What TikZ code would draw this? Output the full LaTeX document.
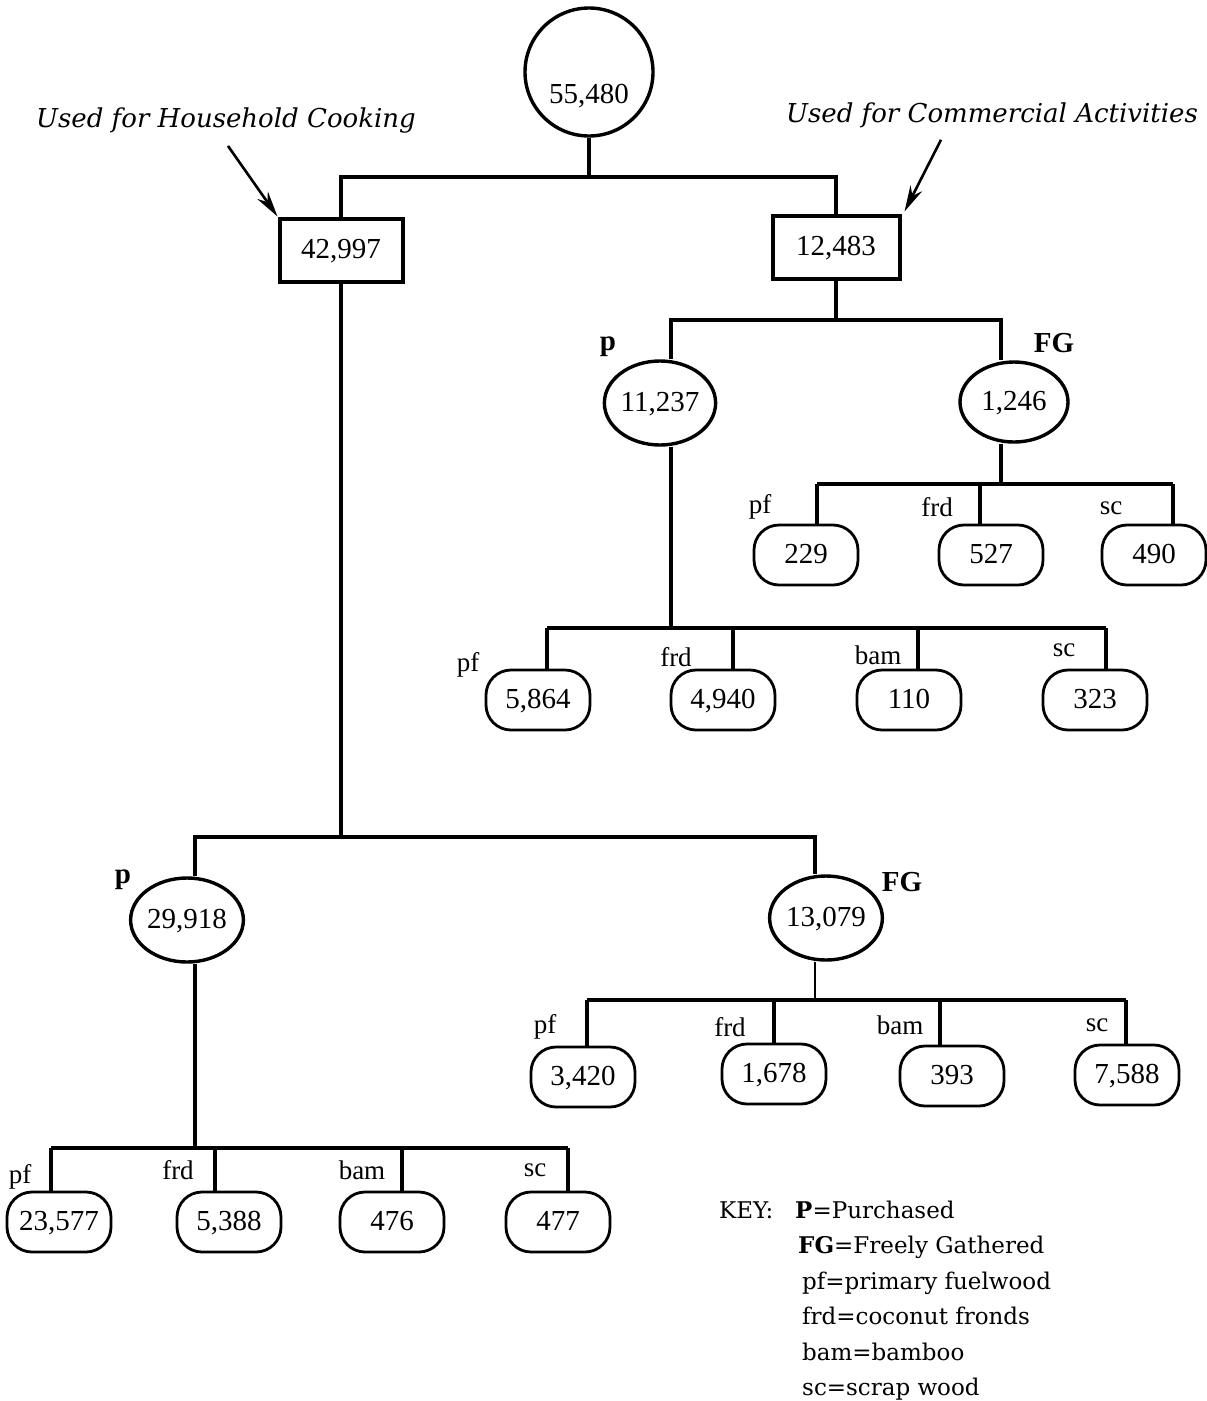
\documentclass[tikz,border=0pt]{standalone}
\usepackage{fontspec}
\setmainfont{Liberation Serif}
\newfontfamily\dvs{DejaVu Serif}
\usetikzlibrary{shapes.geometric,arrows.meta}
\begin{document}
\begin{tikzpicture}[x=1pt,y=-1pt,
  tree/.style={line width=3.6pt},
  thinline/.style={line width=1.6pt},
  num/.style={font=\fontsize{29}{30}\selectfont, text height=19pt, text depth=2pt, inner sep=0pt},
  oval/.style={num, draw, ellipse, line width=3.4pt, minimum width=108pt, minimum height=84pt},
  bx/.style={num, draw, rectangle, line width=4pt, minimum height=63pt},
  leaf/.style={num, draw, rectangle, rounded corners=25pt, line width=2.8pt, minimum width=104pt, minimum height=60pt},
  tag/.style={font=\fontsize{27}{28}\selectfont, inner sep=0pt},
  btag/.style={font=\fontsize{29}{30}\selectfont\bfseries, inner sep=0pt},
  note/.style={font=\dvs\fontsize{26}{28}\selectfont\itshape, inner sep=0pt},
  arr/.style={line width=2.6pt, -{Stealth[length=26pt,width=13pt]}},
  keyfont/.style={font=\dvs\fontsize{23}{35.5}\selectfont, inner sep=0pt},
]
\fill[white] (0,0) rectangle (1207,1401);
\useasboundingbox (0,0) rectangle (1207,1401);

% root
\node[draw, circle, line width=3.4pt, minimum size=128pt, inner sep=0pt] (root) at (589,72) {};
\node[num] (rootnum) at (589,95) {55,480};
\coordinate (h1) at (589,177);
\node[bx, minimum width=123pt] (b1) at (341,250) {42,997};
\node[bx, minimum width=127pt] (b2) at (836,247) {12,483};
\draw[tree] (root) -- (h1);
\draw[tree] (b1.north) |- (h1) -| (b2.north);

% notes and arrows
\node[note] (nh) at (226,121) {Used for Household Cooking};
\node[note] (nc) at (992,115) {Used for Commercial Activities};
\draw[arr] ([xshift=2pt,yshift=-12pt]nh.south) -- (b1.north west);
\draw[arr] ([xshift=-51pt,yshift=-12pt]nc.south) -- ([xshift=3pt,yshift=2pt]b2.north east);

% commercial subtree
\coordinate (h2) at (836,320);
\coordinate (cp2) at (671,320);
\coordinate (cfg2) at (1001,320);
\node[oval] (p2) at (660,403) {11,237};
\node[oval, minimum height=80pt] (fg2) at (1014,402) {1,246};
\node[btag] (tp2) at (608,347) {p};
\node[btag] (tfg2) at (1054,343) {FG};
\draw[tree] (b2.south) -- (h2);
\draw[tree] (cp2 |- p2.north) -- (cp2) -- (cfg2) -- (cfg2 |- fg2.north);

% group A (under 1,246)
\coordinate (hA) at (1001,484);
\coordinate (sA1) at (817,484);
\coordinate (sA2) at (980,484);
\coordinate (sA3) at (1173,484);
\node[leaf] (lA1) at (806,555) {229};
\node[leaf] (lA2) at (991,555) {527};
\node[leaf] (lA3) at (1154,555) {490};
\node[tag] (tA1) at (760,507) {pf};
\node[tag] (tA2) at (937,507) {frd};
\node[tag] (tA3) at (1111,508) {sc};
\draw[tree] (fg2.south -| hA) -- (hA);
\draw[tree] (sA1) -- (sA3);
\draw[tree] (sA1) -- (sA1 |- lA1.north);
\draw[tree] (sA2) -- (sA2 |- lA2.north);
\draw[tree] (sA3) -- (sA3 |- lA3.north);

% group B (under 11,237)
\coordinate (hB) at (671,628);
\coordinate (sB1) at (547,628);
\coordinate (sB2) at (733,628);
\coordinate (sB3) at (918,628);
\coordinate (sB4) at (1106,628);
\node[leaf] (lB1) at (538,700) {5,864};
\node[leaf] (lB2) at (723,700) {4,940};
\node[leaf] (lB3) at (909,700) {110};
\node[leaf] (lB4) at (1095,700) {323};
\node[tag] (tB1) at (468,665) {pf};
\node[tag] (tB2) at (676,657) {frd};
\node[tag] (tB3) at (878,655) {bam};
\node[tag] (tB4) at (1064,650) {sc};
\draw[tree] (p2.south -| hB) -- (hB);
\draw[tree] (sB1) -- (sB4);
\draw[tree] (sB1) -- (sB1 |- lB1.north);
\draw[tree] (sB2) -- (sB2 |- lB2.north);
\draw[tree] (sB3) -- (sB3 |- lB3.north);
\draw[tree] (sB4) -- (sB4 |- lB4.north);

% household subtree
\coordinate (h3) at (341,837);
\coordinate (cp1) at (195,837);
\coordinate (cfg1) at (815,837);
\node[oval] (p1) at (187,920) {29,918};
\node[oval] (fg1) at (826,918) {13,079};
\node[btag] (tp1) at (123,880) {p};
\node[btag] (tfg1) at (902,882) {FG};
\draw[tree] (b1.south) -- (h3);
\draw[tree] (cp1 |- p1.north) -- (cp1) -- (cfg1) -- (cfg1 |- fg1.north);

% group C (under 13,079)
\coordinate (hC) at (815,1000);
\coordinate (sC1) at (587,1000);
\coordinate (sC2) at (774,1000);
\coordinate (sC3) at (940,1000);
\coordinate (sC4) at (1126,1000);
\node[leaf] (lC1) at (583,1077) {3,420};
\node[leaf] (lC2) at (774,1074) {1,678};
\node[leaf] (lC3) at (952,1076) {393};
\node[leaf] (lC4) at (1127,1075) {7,588};
\node[tag] (tC1) at (545,1027) {pf};
\node[tag] (tC2) at (730,1027) {frd};
\node[tag] (tC3) at (900,1025) {bam};
\node[tag] (tC4) at (1097,1025) {sc};
\draw[thinline] (fg1.south -| hC) -- (hC);
\draw[tree] (sC1) -- (sC4);
\draw[tree] (sC1) -- (sC1 |- lC1.north);
\draw[tree] (sC2) -- (sC2 |- lC2.north);
\draw[tree] (sC3) -- (sC3 |- lC3.north);
\draw[tree] (sC4) -- (sC4 |- lC4.north);

% group D (under 29,918)
\coordinate (hD) at (195,1148);
\coordinate (sD1) at (51,1148);
\coordinate (sD2) at (215,1148);
\coordinate (sD3) at (402,1148);
\coordinate (sD4) at (568,1148);
\node[leaf] (lD1) at (59,1222) {23,577};
\node[leaf] (lD2) at (229,1222) {5,388};
\node[leaf] (lD3) at (392,1222) {476};
\node[leaf] (lD4) at (558,1222) {477};
\node[tag] (tD1) at (20,1177) {pf};
\node[tag] (tD2) at (178,1170) {frd};
\node[tag] (tD3) at (362,1170) {bam};
\node[tag] (tD4) at (535,1170) {sc};
\draw[tree] (p1.south -| hD) -- (hD);
\draw[tree] (sD1) -- (sD4);
\draw[tree] (sD1) -- (sD1 |- lD1.north);
\draw[tree] (sD2) -- (sD2 |- lD2.north);
\draw[tree] (sD3) -- (sD3 |- lD3.north);
\draw[tree] (sD4) -- (sD4 |- lD4.north);

% key
\node[keyfont, anchor=base west] (keyhead) at (719,1218) {KEY:};
\node[keyfont, anchor=base west] (keybody) at (795,1218)
  {\begin{tabular}[t]{@{}l@{}}
   \textbf{P}=Purchased\\
   \hspace{3pt}\textbf{FG}=Freely Gathered\\
   \hspace{7pt}pf=primary fuelwood\\
   \hspace{7pt}frd=coconut fronds\\
   \hspace{7pt}bam=bamboo\\
   \hspace{7pt}sc=scrap wood
   \end{tabular}};
\end{tikzpicture}
\end{document}
